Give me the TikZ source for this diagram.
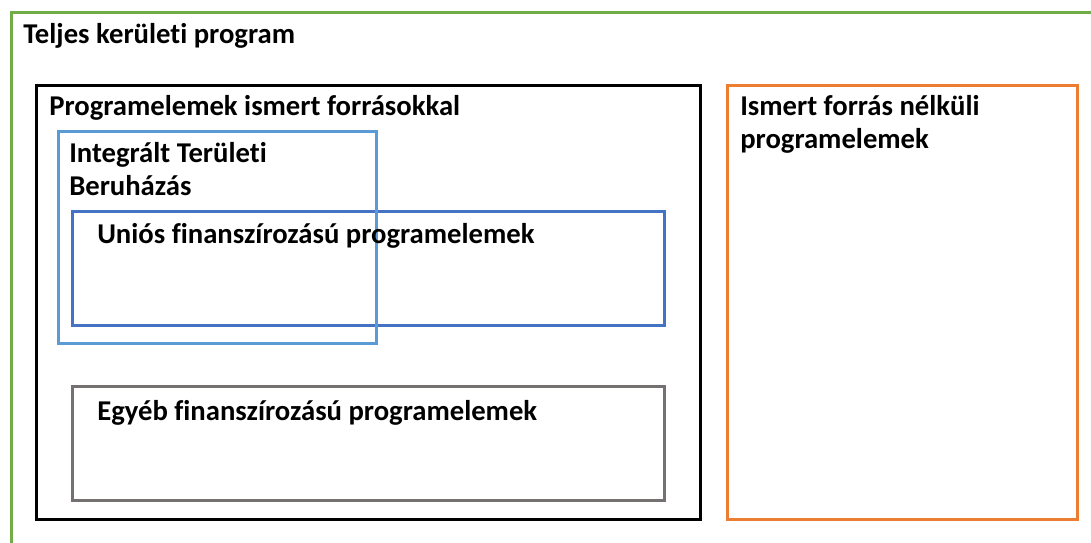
\documentclass[tikz,border=0pt]{standalone}
\usepackage{fontspec}
\setmainfont[Ligatures=NoCommon]{Carlito}
\definecolor{grn}{RGB}{112,173,71}
\definecolor{ltblue}{RGB}{91,155,213}
\definecolor{dkblue}{RGB}{68,114,196}
\definecolor{gry}{RGB}{118,113,113}
\definecolor{orng}{RGB}{237,125,49}
\begin{document}
\begin{tikzpicture}
[
x=0.75pt, y=-0.75pt,
Tot/.style={draw=grn, line width=2.25pt},
Known/.style={draw=black, line width=2.25pt},
ITB/.style={draw=ltblue, line width=2.25pt},
EU/.style={draw=dkblue, line width=2.25pt},
Oth/.style={draw=gry, line width=2.25pt},
Unk/.style={draw=orng, line width=2.25pt},
lbl/.style={anchor=base west, inner sep=0pt, align=left,
  font=\fontsize{21.5}{24.75}\selectfont\bfseries},
]
%
\useasboundingbox (0,0) rectangle (1091,542);
\clip (0,0) rectangle (1091,542);
\fill [white] (0,0) rectangle (1091,542);

% outer frame, open to the right and below
\draw [Tot] (1100,12.5) -- (11,12.5) -- (11,560);

\draw [Known] (36.5,85) rectangle (700,519);
\draw [Unk]   (727,85) rectangle (1077,519);
\draw [EU]    (72.5,211) rectangle (664.5,325);
\draw [Oth]   (72.5,386.5) rectangle (664.5,500);
\draw [ITB]   (58,131) rectangle (376,343);

% two-line labels sit on the baseline of their last line
\node [lbl] (tot)   at (23,44)   {Teljes kerületi program};
\node [lbl] (known) at (49,115)  {Programelemek ismert forrásokkal};
\node [lbl] (itb)   at (69,195)  {Integrált Területi\\Beruházás};
\node [lbl] (eu)    at (97,243)  {Uniós finanszírozású programelemek};
\node [lbl] (oth)   at (97,420)  {Egyéb finanszírozású programelemek};
\node [lbl] (unk)   at (740,148) {Ismert forrás nélküli\\programelemek};
%
\end{tikzpicture}
\end{document}
